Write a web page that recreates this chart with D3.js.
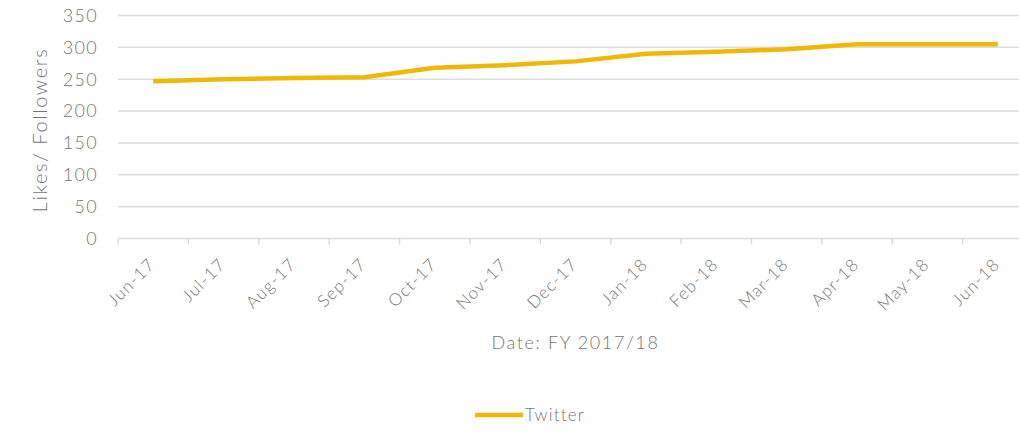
<!DOCTYPE html>
<html><head><meta charset="utf-8">
<script src="https://cdn.jsdelivr.net/npm/d3@7"></script>
<style>
html,body{margin:0;padding:0;background:#fff;}
svg{display:block;font-family:Lato,"Open Sans",sans-serif;font-weight:300;}
</style></head>
<body>
<svg id="chart" width="1019" height="434"></svg>
<script>
const categories = ["Jun-17","Jul-17","Aug-17","Sep-17","Oct-17","Nov-17","Dec-17","Jan-18","Feb-18","Mar-18","Apr-18","May-18","Jun-18"];
const twitter = [247,250,252,253,268,272,278,290,293,297,305,305,305];
const yTicks = [0,50,100,150,200,250,300,350];
const seriesName = "Twitter";

(function(){
const svg = d3.select("#chart");
const mLeft = 118, mRight = 1033, mTop = 15.5, mBottom = 238.5;
const x = d3.scaleBand().domain(categories).range([mLeft, mRight]);
const y = d3.scaleLinear().domain([0,350]).range([mBottom, mTop]);
const textCol = "#757575", gridCol = "#dcdcdc", lineCol = "#f2b705";

svg.append("g").selectAll("line").data(yTicks).join("line")
  .attr("x1", mLeft).attr("x2", mRight)
  .attr("y1", d=>y(d)).attr("y2", d=>y(d))
  .attr("stroke", gridCol).attr("stroke-width", 1.5);

svg.append("g").selectAll("text").data(yTicks).join("text")
  .attr("x", 98).attr("y", d=>y(d)).attr("dy","0.35em")
  .attr("text-anchor","end").attr("font-size",18).attr("letter-spacing",1.3)
  .attr("fill",textCol)
  .text(d=>d);

const bounds = categories.map(c=>x(c)).concat([x(categories[categories.length-1])+x.bandwidth()]);
svg.append("g").selectAll("line").data(bounds).join("line")
  .attr("x1", d=>d).attr("x2", d=>d)
  .attr("y1", mBottom).attr("y2", mBottom+6)
  .attr("stroke", gridCol).attr("stroke-width", 1.5);

svg.append("g").selectAll("text").data(categories).join("text")
  .attr("transform", d=>`translate(${x(d)+x.bandwidth()/2+3},${mBottom+27}) rotate(-45)`)
  .attr("text-anchor","end").attr("font-size",17).attr("letter-spacing",1.2)
  .attr("fill",textCol)
  .text(d=>d);

svg.append("text").attr("transform","translate(47,130) rotate(-90)")
  .attr("text-anchor","middle").attr("font-size",20).attr("letter-spacing",1.6)
  .attr("fill",textCol)
  .text("Likes/ Followers");
svg.append("text").attr("x",(mLeft+mRight)/2).attr("y",349)
  .attr("text-anchor","middle").attr("font-size",18).attr("letter-spacing",1.6)
  .attr("fill",textCol)
  .text("Date: FY 2017/18");

const line = d3.line().x((d,i)=>x(categories[i])+x.bandwidth()/2).y(d=>y(d));
svg.append("path").datum(twitter).attr("d", line)
  .attr("fill","none").attr("stroke",lineCol).attr("stroke-width",4.5)
  .attr("stroke-linejoin","round");

svg.append("line").attr("x1",475).attr("x2",523).attr("y1",415).attr("y2",415)
  .attr("stroke",lineCol).attr("stroke-width",4.5);
svg.append("text").attr("x",525).attr("y",415).attr("dy","0.35em")
  .attr("font-size",17).attr("letter-spacing",1.2)
  .attr("fill",textCol).text(seriesName);
})();
</script>
</body></html>
